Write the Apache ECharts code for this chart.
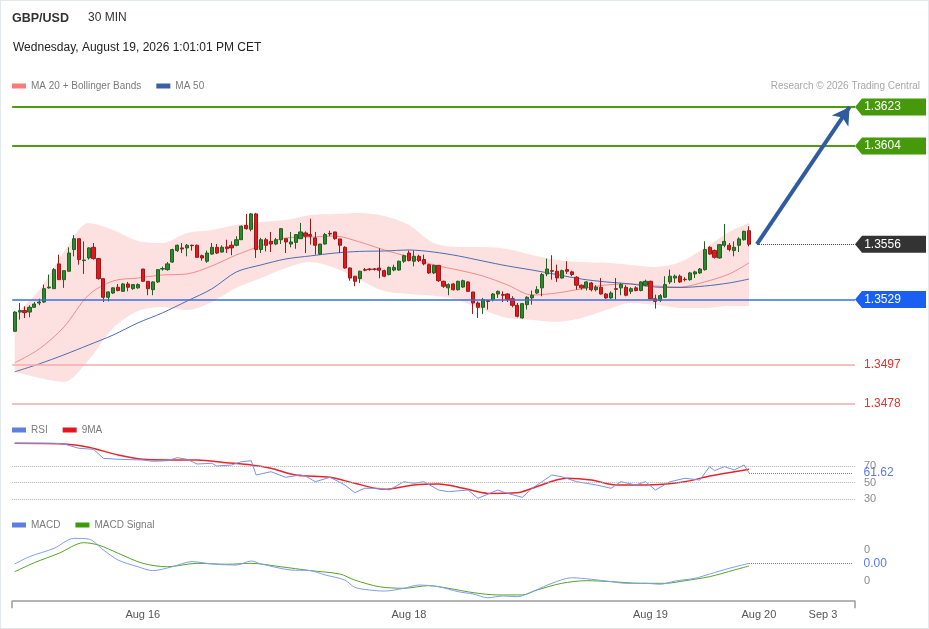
<!DOCTYPE html>
<html><head><meta charset="utf-8">
<script src="https://cdn.jsdelivr.net/npm/echarts/dist/echarts.min.js"></script>
<style>
html,body{margin:0;padding:0;background:#fff}
#c{position:absolute;left:0;top:0;width:929px;height:629px}
#frame{position:absolute;left:0;top:0;width:929px;height:629px;box-sizing:border-box;border:1px solid #e3e8ec;pointer-events:none}
</style>
</head><body><div id="c"></div><div id="frame"></div>
<script>
// ---------- DATA (GBP/USD, 30 min candles) ----------
const opens = [1.35135,1.35229,1.35236,1.35229,1.35252,1.35273,1.35278,1.35347,1.35343,1.35464,
1.35387,1.35428,1.35534,1.35587,1.35480,1.35493,1.35545,1.35490,1.35392,1.35301,
1.35322,1.35350,1.35330,1.35366,1.35343,1.35347,1.35439,1.35379,1.35338,1.35376,
1.35439,1.35436,1.35473,1.35529,1.35542,1.35542,1.35555,1.35555,1.35504,1.35477,
1.35512,1.35545,1.35522,1.35547,1.35555,1.35555,1.35582,1.35652,1.35633,1.35708,
1.35534,1.35582,1.35574,1.35561,1.35582,1.35587,1.35561,1.35569,1.35587,1.35615,
1.35607,1.35591,1.35512,1.35561,1.35613,1.35620,1.35586,1.35545,1.35444,1.35404,
1.35392,1.35436,1.35439,1.35439,1.35444,1.35431,1.35412,1.35434,1.35434,1.35477,
1.35517,1.35477,1.35501,1.35485,1.35460,1.35420,1.35457,1.35379,1.35347,1.35366,
1.35338,1.35351,1.35376,1.35327,1.35273,1.35252,1.35285,1.35290,1.35317,1.35314,
1.35317,1.35294,1.35262,1.35200,1.35265,1.35298,1.35322,1.35347,1.35415,1.35431,
1.35428,1.35395,1.35436,1.35425,1.35399,1.35360,1.35347,1.35371,1.35338,1.35350,
1.35317,1.35298,1.35343,1.35347,1.35350,1.35330,1.35347,1.35334,1.35360,1.35379,
1.35294,1.35285,1.35301,1.35376,1.35395,1.35404,1.35389,1.35387,1.35415,1.35420,
1.35436,1.35545,1.35529,1.35493,1.35555,1.35555,1.35529,1.35555,1.35582,1.35626];
const closes = [1.35229,1.35236,1.35226,1.35252,1.35268,1.35278,1.35343,1.35351,1.35436,1.35387,
1.35431,1.35517,1.35587,1.35485,1.35483,1.35542,1.35490,1.35392,1.35301,1.35327,
1.35347,1.35334,1.35366,1.35350,1.35363,1.35363,1.35379,1.35343,1.35376,1.35436,
1.35441,1.35464,1.35534,1.35555,1.35537,1.35555,1.35553,1.35496,1.35493,1.35517,
1.35545,1.35517,1.35545,1.35538,1.35542,1.35582,1.35648,1.35636,1.35708,1.35534,
1.35582,1.35555,1.35561,1.35582,1.35636,1.35571,1.35571,1.35607,1.35620,1.35599,
1.35599,1.35555,1.35561,1.35607,1.35610,1.35587,1.35555,1.35444,1.35395,1.35379,
1.35428,1.35433,1.35436,1.35438,1.35433,1.35404,1.35447,1.35447,1.35477,1.35504,
1.35480,1.35501,1.35480,1.35464,1.35420,1.35457,1.35382,1.35355,1.35363,1.35338,
1.35379,1.35382,1.35330,1.35273,1.35252,1.35290,1.35281,1.35317,1.35330,1.35311,
1.35290,1.35262,1.35208,1.35270,1.35301,1.35311,1.35338,1.35412,1.35439,1.35428,
1.35395,1.35431,1.35428,1.35412,1.35360,1.35347,1.35376,1.35338,1.35350,1.35317,
1.35298,1.35322,1.35340,1.35363,1.35311,1.35343,1.35334,1.35376,1.35379,1.35294,
1.35281,1.35309,1.35363,1.35404,1.35404,1.35376,1.35387,1.35420,1.35425,1.35439,
1.35534,1.35512,1.35496,1.35558,1.35574,1.35534,1.35545,1.35586,1.35623,1.35560];
const lows = [1.35132,1.35192,1.35200,1.35203,1.35249,1.35262,1.35273,1.35343,1.35343,1.35387,
1.35347,1.35428,1.35501,1.35460,1.35415,1.35485,1.35485,1.35387,1.35278,1.35281,
1.35317,1.35330,1.35327,1.35330,1.35338,1.35343,1.35376,1.35311,1.35311,1.35371,
1.35431,1.35431,1.35469,1.35522,1.35517,1.35501,1.35529,1.35496,1.35480,1.35469,
1.35509,1.35512,1.35519,1.35517,1.35506,1.35550,1.35582,1.35631,1.35623,1.35493,
1.35517,1.35525,1.35522,1.35555,1.35561,1.35517,1.35545,1.35538,1.35587,1.35517,
1.35558,1.35509,1.35509,1.35558,1.35599,1.35582,1.35517,1.35441,1.35382,1.35355,
1.35371,1.35428,1.35431,1.35431,1.35394,1.35399,1.35408,1.35428,1.35431,1.35469,
1.35477,1.35452,1.35473,1.35457,1.35415,1.35415,1.35376,1.35347,1.35311,1.35334,
1.35334,1.35347,1.35327,1.35220,1.35200,1.35220,1.35241,1.35281,1.35298,1.35278,
1.35278,1.35252,1.35203,1.35197,1.35241,1.35265,1.35317,1.35306,1.35404,1.35387,
1.35376,1.35392,1.35415,1.35404,1.35338,1.35338,1.35334,1.35330,1.35330,1.35314,
1.35294,1.35294,1.35290,1.35311,1.35306,1.35317,1.35330,1.35330,1.35355,1.35294,
1.35246,1.35278,1.35298,1.35366,1.35371,1.35371,1.35379,1.35382,1.35395,1.35415,
1.35431,1.35509,1.35490,1.35490,1.35545,1.35525,1.35501,1.35522,1.35578,1.35550];
const highs = [1.35233,1.35273,1.35257,1.35262,1.35278,1.35294,1.35363,1.35412,1.35444,1.35509,
1.35431,1.35545,1.35604,1.35587,1.35574,1.35545,1.35566,1.35493,1.35392,1.35330,
1.35350,1.35366,1.35371,1.35376,1.35366,1.35369,1.35439,1.35379,1.35379,1.35436,
1.35451,1.35473,1.35538,1.35558,1.35566,1.35561,1.35558,1.35558,1.35509,1.35529,
1.35566,1.35561,1.35555,1.35582,1.35574,1.35599,1.35652,1.35708,1.35713,1.35713,
1.35591,1.35591,1.35620,1.35591,1.35639,1.35587,1.35620,1.35610,1.35664,1.35623,
1.35685,1.35620,1.35561,1.35615,1.35626,1.35620,1.35586,1.35550,1.35447,1.35404,
1.35431,1.35444,1.35444,1.35444,1.35540,1.35436,1.35451,1.35460,1.35480,1.35509,
1.35529,1.35529,1.35509,1.35509,1.35464,1.35460,1.35457,1.35382,1.35369,1.35371,
1.35382,1.35387,1.35379,1.35327,1.35281,1.35298,1.35288,1.35322,1.35334,1.35330,
1.35321,1.35306,1.35273,1.35273,1.35306,1.35334,1.35355,1.35420,1.35490,1.35506,
1.35460,1.35436,1.35477,1.35431,1.35404,1.35363,1.35379,1.35376,1.35360,1.35395,
1.35322,1.35330,1.35395,1.35371,1.35360,1.35350,1.35355,1.35379,1.35387,1.35382,
1.35314,1.35317,1.35404,1.35436,1.35412,1.35412,1.35399,1.35425,1.35431,1.35444,
1.35574,1.35550,1.35534,1.35561,1.35659,1.35566,1.35574,1.35594,1.35626,1.35648];

// indicator readings at candle slots
const indSlots = [0,5,10,15,20,25,30,35,40,45,50,55,60,65,70,75,80,85,90,95,100,105,110,115,120,125,130,135,140,145,149];
const ma20 = [1.34981,1.35049,1.35156,1.35312,1.35381,1.35395,1.35410,1.35415,1.35454,1.35508,1.35552,1.35591,1.35595,1.35600,1.35571,1.35532,1.35498,1.35459,1.35434,1.35405,1.35361,1.35312,1.35322,1.35342,1.35361,1.35366,1.35356,1.35351,1.35376,1.35415,1.35469];
const ma50 = [1.34937,1.34976,1.35020,1.35068,1.35117,1.35176,1.35225,1.35283,1.35342,1.35425,1.35459,1.35488,1.35503,1.35517,1.35525,1.35527,1.35532,1.35522,1.35503,1.35478,1.35454,1.35434,1.35412,1.35390,1.35376,1.35366,1.35351,1.35349,1.35356,1.35371,1.35390];
const bbUpper = [1.35215,1.35337,1.35522,1.35664,1.35630,1.35576,1.35566,1.35615,1.35630,1.35654,1.35669,1.35678,1.35703,1.35708,1.35713,1.35698,1.35654,1.35566,1.35547,1.35547,1.35537,1.35508,1.35483,1.35473,1.35469,1.35459,1.35449,1.35473,1.35542,1.35620,1.35664];
const bbLower = [1.34937,1.34907,1.34888,1.34995,1.35151,1.35234,1.35254,1.35239,1.35278,1.35347,1.35395,1.35444,1.35473,1.35444,1.35386,1.35332,1.35317,1.35308,1.35288,1.35239,1.35200,1.35190,1.35181,1.35200,1.35239,1.35273,1.35264,1.35249,1.35249,1.35259,1.35259];

const rsi = [[0,97.5],[8,97.5],[10,96.7],[13,91.5],[16,90.2],[18,79.3],[21,78.1],[26,77.3],[28,75.7],[31,76.4],[33,80.1],[35,78.1],[37,72.4],[40,73.3],[41,70.0],[44,71.2],[46,75.2],[48,76.4],[49,59.1],[52,63.1],[55,56.3],[58,59.1],[59,57.9],[61,51.0],[64,56.3],[67,47.0],[69,37.6],[71,43.0],[74,43.0],[76,40.9],[79,51.0],[81,49.0],[83,51.0],[86,40.9],[88,38.9],[92,40.9],[94,30.8],[98,40.9],[100,36.8],[103,32.0],[105,43.0],[109,59.1],[111,57.0],[114,51.0],[116,49.0],[118,47.0],[121,43.0],[123,51.0],[126,47.0],[128,51.0],[130,40.9],[133,51.0],[136,55.1],[139,53.0],[141,69.2],[142,64.3],[144,69.2],[146,65.2],[148,71.2],[149,61.62]];
const rsiMa9 = [[0,97.5],[10,96.7],[15,92.7],[21,83.3],[26,78.1],[31,77.3],[37,77.3],[43,74.0],[48,71.2],[52,67.2],[57,59.1],[64,56.3],[69,49.0],[75,41.7],[81,47.0],[86,48.2],[91,43.0],[96,36.8],[102,37.6],[105,43.0],[112,55.1],[117,53.0],[122,47.0],[128,47.0],[136,51.0],[141,57.9],[146,63.1],[149,66.0]];
const macd = [[0,0.00010],[3,0.00057],[8,0.00111],[12,0.00175],[15,0.00171],[18,0.00100],[21,0.00035],[25,-0.00008],[28,-0.00033],[32,-0.00008],[36,0.00025],[40,0.00010],[45,0.00003],[48,0.00029],[50,0.00010],[56,-0.00029],[60,-0.00033],[63,-0.00061],[67,-0.00094],[69,-0.00141],[72,-0.00158],[75,-0.00165],[79,-0.00147],[82,-0.00126],[86,-0.00137],[90,-0.00169],[93,-0.00184],[96,-0.00208],[99,-0.00197],[102,-0.00201],[105,-0.00169],[109,-0.00115],[113,-0.00079],[117,-0.00089],[121,-0.00104],[124,-0.00115],[128,-0.00115],[131,-0.00121],[134,-0.00100],[138,-0.00083],[141,-0.00055],[145,-0.00018],[149,0.00014]];
const macdSignal = [[0,-0.00040],[4,0.00018],[9,0.00079],[14,0.00147],[17,0.00132],[21,0.00079],[26,0.00014],[31,-0.00008],[37,0.00014],[43,0.00008],[48,0.00014],[54,-0.00008],[60,-0.00033],[66,-0.00055],[69,-0.00094],[74,-0.00137],[79,-0.00147],[84,-0.00130],[88,-0.00147],[93,-0.00175],[98,-0.00190],[103,-0.00190],[106,-0.00158],[111,-0.00115],[116,-0.00098],[121,-0.00104],[127,-0.00115],[132,-0.00115],[136,-0.00098],[141,-0.00072],[146,-0.00029],[149,-0.00003]];

const resistances = [1.3623, 1.3604];
const pivot = 1.3529;
const supports = [1.3497, 1.3478];

const tickSlots = [26, 80, 129, 151, 164];
const tickLabels = ['Aug 16', 'Aug 18', 'Aug 19', 'Aug 20', 'Sep 3'];

// ---------- LAYOUT ----------
const SLOTS = 171;
const GRID_L = 12.2, GRID_R = 74;
const PX = (929 - GRID_L - GRID_R) / SLOTS;
const FONT = 'Liberation Sans, Arial, Helvetica, sans-serif';

const cats = Array.from({length: SLOTS}, (_, k) => String(k));
const labelMap = {};
tickSlots.forEach((s, k) => { labelMap[s] = tickLabels[k]; });

const candles = opens.map((o, k) => [o, closes[k], lows[k], highs[k]]);
const lastIdx = closes.length - 1;
const lastClose = closes[lastIdx];
const pairs = arr => arr.map((v, k) => [indSlots[k], v]);
const bbWidth = bbUpper.map((v, k) => [indSlots[k], +(v - bbLower[k]).toFixed(5)]);

const tagX = SLOTS - 0.5 + 35.5 / PX;
const tagPath = 'path://M0,8 L7,0 L71,0 L71,16 L7,16 Z';
const tags = [
  {v: resistances[0], c: '#46990a'},
  {v: resistances[1], c: '#46990a'},
  {v: lastClose, c: '#333333'},
  {v: pivot, c: '#1a5ff2'}
];

const supLabel = v => ({show: true, position: 'end', distance: 9, formatter: v.toFixed(4), color: '#e8302a', fontSize: 12, fontFamily: FONT});
const levelLines = [
  {yAxis: resistances[0], lineStyle: {color: '#4c9b10', width: 2, type: 'solid'}},
  {yAxis: resistances[1], lineStyle: {color: '#4c9b10', width: 2, type: 'solid'}},
  {yAxis: pivot, lineStyle: {color: '#3a6fdc', width: 1.5, type: 'solid'}},
  {yAxis: supports[0], lineStyle: {color: '#f5aaaa', width: 1.5, type: 'solid'}, label: supLabel(supports[0])},
  {yAxis: supports[1], lineStyle: {color: '#f5aaaa', width: 1.5, type: 'solid'}, label: supLabel(supports[1])}
];

const lastRsi = rsi[rsi.length - 1];
const lastMacd = macd[macd.length - 1];
const valueLabel = {show: true, position: 'end', distance: 11, color: '#5a7de0', fontSize: 12, fontFamily: FONT};

const legendBase = {
  icon: 'rect', itemWidth: 14, itemHeight: 5, itemGap: 15, selectedMode: false,
  textStyle: {color: '#7a7a7a', fontSize: 10, fontFamily: FONT}, padding: 0
};

const option = {
  animation: false,
  textStyle: {fontFamily: FONT},
  title: [
    {text: 'GBP/USD', left: 12, top: 12, padding: 0, textStyle: {fontSize: 12.5, fontWeight: 'bold', color: '#333', fontFamily: FONT}},
    {text: '30 MIN', left: 88, top: 12, padding: 0, textStyle: {fontSize: 12, fontWeight: 'normal', color: '#333', fontFamily: FONT}},
    {text: 'Wednesday, August 19, 2026 1:01:01 PM CET', left: 13, top: 42, padding: 0, textStyle: {fontSize: 12, fontWeight: 'normal', color: '#222', fontFamily: FONT}},
    {text: 'Research © 2026 Trading Central', right: 9, top: 81, padding: 0, textStyle: {fontSize: 10, fontWeight: 'normal', color: '#a8a8a8', fontFamily: FONT}}
  ],
  legend: [
    Object.assign({}, legendBase, {left: 12, top: 81, data: ['MA 20 + Bollinger Bands', 'MA 50']}),
    Object.assign({}, legendBase, {left: 12, top: 425, data: ['RSI', '9MA']}),
    Object.assign({}, legendBase, {left: 12, top: 520, data: ['MACD', 'MACD Signal']})
  ],
  grid: [
    {left: GRID_L, right: GRID_R, top: 94.7, height: 321.6},
    {left: GRID_L, right: GRID_R, top: 441.25, height: 82.5},
    {left: GRID_L, right: GRID_R, top: 526.75, height: 74.4}
  ],
  xAxis: [
    {type: 'category', gridIndex: 0, data: cats, show: false},
    {type: 'value', gridIndex: 0, min: -0.5, max: SLOTS - 0.5, show: false},
    {type: 'category', gridIndex: 1, data: cats, show: false},
    {type: 'category', gridIndex: 2, data: cats,
      axisLine: {onZero: false, lineStyle: {color: '#9c9c9c', width: 1.5}},
      axisTick: {show: true, length: 7, interval: (i) => i === 0, lineStyle: {color: '#9c9c9c', width: 1.5}},
      axisLabel: {interval: 0, formatter: (v, i) => labelMap[i] || '', color: '#555', fontSize: 11, margin: 8, fontFamily: FONT},
      splitLine: {show: false}}
  ],
  yAxis: [
    {type: 'value', gridIndex: 0, min: 1.3472, max: 1.3629, show: false, splitLine: {show: false}},
    {type: 'value', gridIndex: 1, min: 0, max: 100, interval: 10, position: 'right',
      axisLine: {show: false}, axisTick: {show: false}, splitLine: {show: false},
      axisLabel: {margin: 9, color: '#8a8a8a', fontSize: 11, fontFamily: FONT,
        formatter: v => ([30, 50, 70].indexOf(Math.round(v)) >= 0 && Math.abs(v - Math.round(v)) < 1e-6) ? String(Math.round(v)) : ''}},
    {type: 'value', gridIndex: 2, min: -0.0023, max: 0.0025, interval: 0.0001, position: 'right',
      axisLine: {show: false}, axisTick: {show: false}, splitLine: {show: false},
      axisLabel: {margin: 9, color: '#8a8a8a', fontSize: 11, fontFamily: FONT,
        formatter: v => Math.abs(Math.abs(v) - 0.001) < 1e-8 ? '0' : ''}}
  ],
  series: [
    {type: 'line', name: 'bbLow', xAxisIndex: 0, yAxisIndex: 0, data: pairs(bbLower), stack: 'bb',
      symbol: 'none', smooth: 0.3, lineStyle: {opacity: 0}, silent: true, z: 1},
    {type: 'line', name: 'bbBand', xAxisIndex: 0, yAxisIndex: 0, data: bbWidth, stack: 'bb',
      symbol: 'none', smooth: 0.3, lineStyle: {opacity: 0}, areaStyle: {color: '#fde1e1', opacity: 1}, silent: true, z: 1},
    {type: 'line', name: 'MA 20 + Bollinger Bands', xAxisIndex: 0, yAxisIndex: 0, data: pairs(ma20),
      symbol: 'none', smooth: 0.3, color: '#f77b7b', lineStyle: {color: '#f58a8a', width: 1}, z: 2},
    {type: 'line', name: 'MA 50', xAxisIndex: 0, yAxisIndex: 0, data: pairs(ma50),
      symbol: 'none', smooth: 0.3, color: '#3a5fa6', lineStyle: {color: '#4a6db0', width: 1}, z: 2},
    {type: 'candlestick', name: 'GBP/USD', xAxisIndex: 0, yAxisIndex: 0, data: candles, barWidth: 3.6, z: 3,
      itemStyle: {color: '#2b8a2b', color0: '#e8161c', borderColor: '#235e23', borderColor0: '#9a1a1a', borderWidth: 1},
      markLine: {silent: true, precision: 5, symbol: ['none', 'none'], label: {show: false}, data: levelLines}},
    {type: 'scatter', name: 'tags', xAxisIndex: 1, yAxisIndex: 0, clip: false, silent: true, z: 5,
      symbol: tagPath, symbolSize: [71, 17],
      itemStyle: {opacity: 1},
      data: tags.map(t => ({value: [tagX, t.v], itemStyle: {color: t.c, opacity: 1}})),
      label: {show: true, position: 'inside', offset: [-8, 0], color: '#fff', fontSize: 12, fontFamily: FONT,
        formatter: p => p.value[1].toFixed(4)},
      markLine: {silent: true, precision: 5, symbol: ['none', 'none'], label: {show: false},
        data: [
          [{coord: [lastIdx + 1.6, lastClose], lineStyle: {color: '#444', width: 1, type: 'dotted'}},
           {coord: [SLOTS - 0.7, lastClose]}],
          [{coord: [lastIdx + 1.6, lastClose], lineStyle: {color: '#2e5c9e', width: 4, type: 'solid'}},
           {coord: [SLOTS - 1.6, resistances[0]], symbol: 'arrow', symbolSize: [15, 17]}]
        ]}},
    {type: 'line', name: 'RSI', xAxisIndex: 2, yAxisIndex: 1, data: rsi, symbol: 'none',
      color: '#5b80e0', lineStyle: {color: '#7592e6', width: 1}, z: 3,
      markLine: {silent: true, precision: 5, symbol: ['none', 'none'],
        data: [
          {yAxis: 70, lineStyle: {color: '#b0b0b0', type: 'dotted', width: 1}, label: {show: false}},
          {yAxis: 50, lineStyle: {color: '#b0b0b0', type: 'dotted', width: 1}, label: {show: false}},
          {yAxis: 30, lineStyle: {color: '#b0b0b0', type: 'dotted', width: 1}, label: {show: false}},
          [{coord: [lastRsi[0], lastRsi[1]], lineStyle: {color: '#5a7de0', type: 'dotted', width: 1},
            label: Object.assign({}, valueLabel, {formatter: lastRsi[1].toFixed(2)})},
           {coord: [SLOTS - 1, lastRsi[1]]}]
        ]}},
    {type: 'line', name: '9MA', xAxisIndex: 2, yAxisIndex: 1, data: rsiMa9, symbol: 'none', smooth: 0.3,
      color: '#e8141c', lineStyle: {color: '#e8242a', width: 1.5}, z: 2},
    {type: 'line', name: 'MACD', xAxisIndex: 3, yAxisIndex: 2, data: macd, symbol: 'none', smooth: 0.3,
      color: '#5b80e0', lineStyle: {color: '#7f9deb', width: 1}, z: 3,
      markLine: {silent: true, precision: 6, symbol: ['none', 'none'],
        data: [
          [{coord: [lastMacd[0], lastMacd[1]], lineStyle: {color: '#5a7de0', type: 'dotted', width: 1},
            label: Object.assign({}, valueLabel, {formatter: lastMacd[1].toFixed(2)})},
           {coord: [SLOTS - 1, lastMacd[1]]}]
        ]}},
    {type: 'line', name: 'MACD Signal', xAxisIndex: 3, yAxisIndex: 2, data: macdSignal, symbol: 'none', smooth: 0.3,
      color: '#3f9a10', lineStyle: {color: '#52a425', width: 1}, z: 2}
  ]
};

const chart = echarts.init(document.getElementById('c'), null, {renderer: 'canvas'});
chart.setOption(option);
</script>
</body></html>
